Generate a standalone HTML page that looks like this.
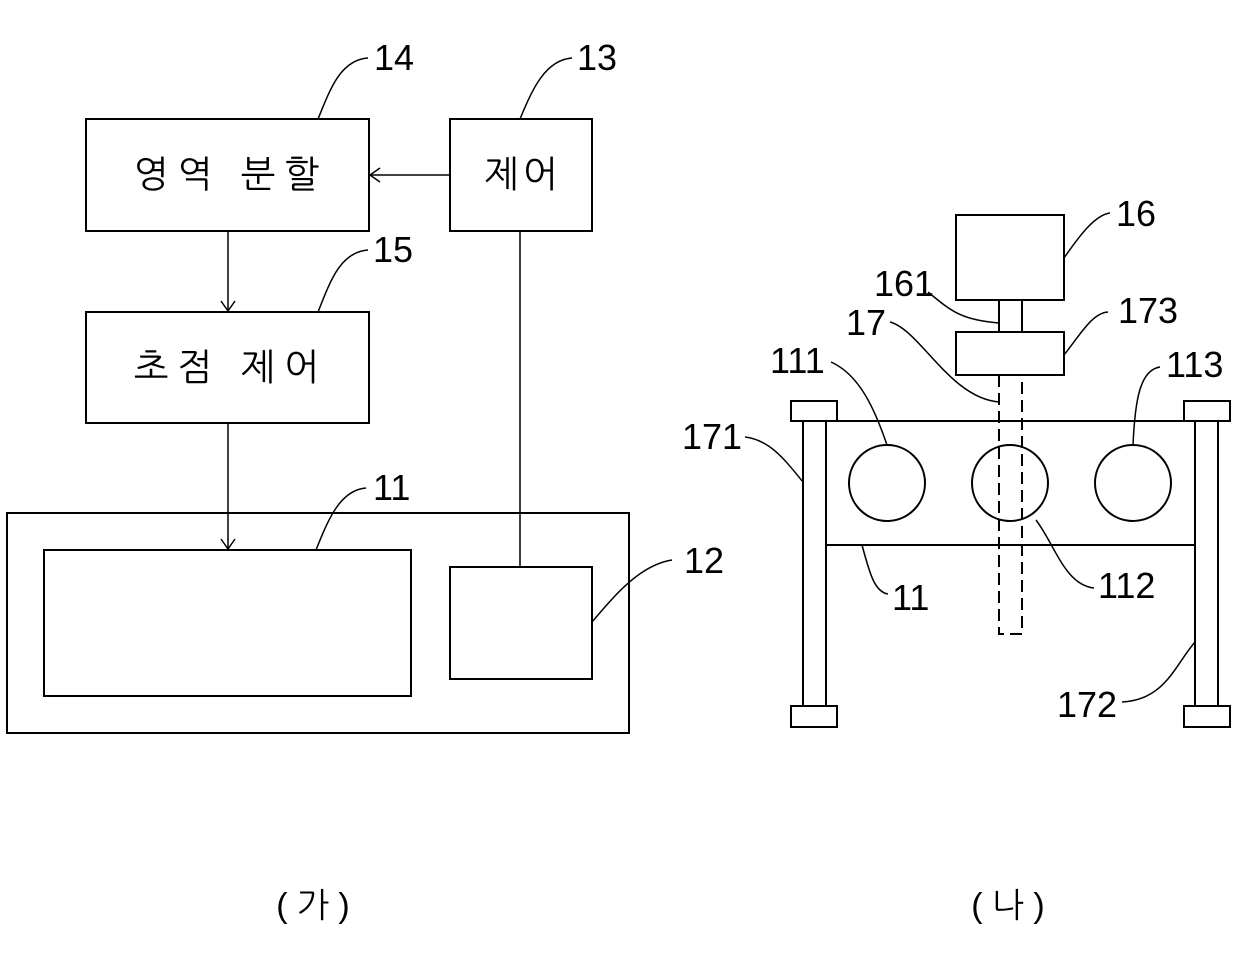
<!DOCTYPE html>
<html><head><meta charset="utf-8"><style>
body{margin:0;background:#fff}
svg text{font-family:"Liberation Sans","NanumGothic","Noto Sans CJK KR",sans-serif;fill:#000}
</style></head><body>
<svg width="1240" height="955" viewBox="0 0 1240 955" xmlns="http://www.w3.org/2000/svg">
<g fill="none" stroke="#000" stroke-width="2">
<rect x="86" y="119" width="283" height="112"/>
<rect x="450" y="119" width="142" height="112"/>
<rect x="86" y="312" width="283" height="111"/>
<rect x="7" y="513" width="622" height="220"/>
<rect x="44" y="550" width="367" height="146"/>
<rect x="450" y="567" width="142" height="112"/>
<line x1="450" y1="175" x2="370" y2="175" stroke-width="1.5"/>
<polyline points="380,168 370,175 380,182" stroke-width="1.5"/>
<line x1="228" y1="231" x2="228" y2="311" stroke-width="1.5"/>
<polyline points="221,301 228,311 235,301" stroke-width="1.5"/>
<line x1="228" y1="423" x2="228" y2="549" stroke-width="1.5"/>
<polyline points="221,539 228,549 235,539" stroke-width="1.5"/>
<line x1="520" y1="231" x2="520" y2="567" stroke-width="1.5"/>
<path d="M318,119 C330,90 340,60 368,58" stroke-width="1.5"/>
<path d="M520,119 C532,90 545,60 572,58" stroke-width="1.5"/>
<path d="M318,312 C330,282 340,252 368,250" stroke-width="1.5"/>
<path d="M316,550 C328,520 340,490 366,488" stroke-width="1.5"/>
<path d="M592,622 C615,595 640,565 672,560" stroke-width="1.5"/>

<rect x="956" y="215" width="108" height="85"/>
<rect x="999" y="300" width="23" height="32"/>
<rect x="956" y="332" width="108" height="43"/>
<path d="M999,375 V634 H1022 V375" stroke-dasharray="12,6"/>
<line x1="827" y1="421" x2="1195" y2="421"/>
<line x1="827" y1="545" x2="1195" y2="545"/>
<rect x="803" y="421" width="23" height="285"/>
<rect x="791" y="401" width="46" height="20"/>
<rect x="791" y="706" width="46" height="21"/>
<rect x="1195" y="421" width="23" height="285"/>
<rect x="1184" y="401" width="46" height="20"/>
<rect x="1184" y="706" width="46" height="21"/>
<circle cx="887" cy="483" r="38"/>
<circle cx="1010" cy="483" r="38"/>
<circle cx="1133" cy="483" r="38"/>
<g stroke-width="1.5">
<path d="M1064,258 C1080,235 1095,215 1110,213"/>
<path d="M1064,355 C1080,335 1092,313 1108,312"/>
<path d="M928,292 C950,310 960,320 999,323"/>
<path d="M890,322 C920,330 950,398 999,402"/>
<path d="M831,362 C860,375 875,410 887,445"/>
<path d="M1133,445 C1135,400 1140,370 1160,367"/>
<path d="M745,437 C770,440 785,460 803,482"/>
<path d="M1036,520 C1055,545 1065,585 1094,588"/>
<path d="M862,545 C870,575 875,592 888,594"/>
<path d="M1195,642 C1175,665 1165,700 1122,702"/>
</g>
</g>
<g font-size="36">
<text x="374" y="70">14</text>
<text x="577" y="70">13</text>
<text x="373" y="262">15</text>
<text x="373" y="500">11</text>
<text x="684" y="573">12</text>
<text x="1116" y="226">16</text>
<text x="1118" y="323">173</text>
<text x="874" y="296">161</text>
<text x="846" y="335">17</text>
<text x="770" y="373">111</text>
<text x="1166" y="377">113</text>
<text x="682" y="449">171</text>
<text x="1098" y="598">112</text>
<text x="892" y="610">11</text>
<text x="1057" y="717">172</text>
</g>
<g font-size="37" text-anchor="middle">
<text x="231" y="187" letter-spacing="9">영역 분할</text>
<text x="523" y="187" letter-spacing="4">제어</text>
<text x="231" y="380" letter-spacing="9">초점 제어</text>
<text x="313" y="917" font-size="34">( 가 )</text>
<text x="1008" y="917" font-size="34">( 나 )</text>
</g>
</svg>
</body></html>
